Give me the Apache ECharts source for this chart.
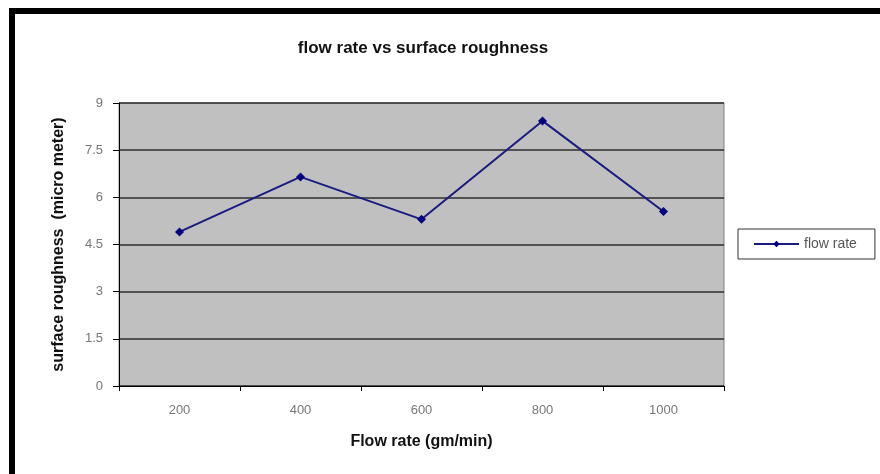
<!DOCTYPE html>
<html>
<head>
<meta charset="utf-8">
<script src="https://cdn.jsdelivr.net/npm/echarts@6/dist/echarts.min.js"></script>
<style>
  html, body { margin: 0; padding: 0; background: #fff; }
  #chart { position: absolute; left: 0; top: 0; width: 880px; height: 474px; }
  #frame {
    position: absolute; left: 9px; top: 8px; right: 0; bottom: 0;
    border-top: 6px solid #000; border-left: 6px solid #000;
    pointer-events: none;
  }
</style>
</head>
<body>
<div id="chart"></div>
<div id="frame"></div>
<script>
// values
const flowRates = ["200", "400", "600", "800", "1000"];
const roughness = [4.9, 6.65, 5.3, 8.43, 5.55];
const yTicks = { min: 0, max: 9, interval: 1.5 };

const chart = echarts.init(document.getElementById("chart"));
chart.setOption({
  animation: false,
  title: {
    text: "flow rate vs surface roughness",
    left: 418,
    top: 35,
    textAlign: "center",
    textStyle: { fontFamily: "Liberation Sans", fontSize: 17, fontWeight: "bold", color: "#111" }
  },
  legend: {
    left: 738,
    top: 229,
    padding: [8, 18, 8, 15],
    borderColor: "#333",
    borderWidth: 1,
    itemWidth: 45,
    itemHeight: 8,
    itemGap: 5,
    textStyle: { fontFamily: "Liberation Sans", fontSize: 14, color: "#555" },
    data: ["flow rate"]
  },
  grid: {
    left: 119,
    right: 156,
    top: 103,
    bottom: 88,
    show: true,
    backgroundColor: "#c0c0c0",
    borderColor: "#808080",
    borderWidth: 1
  },
  xAxis: {
    type: "category",
    boundaryGap: true,
    data: flowRates,
    name: "Flow rate (gm/min)",
    nameLocation: "middle",
    nameGap: 48,
    nameTextStyle: { fontFamily: "Liberation Sans", fontSize: 16, fontWeight: "bold", color: "#111" },
    axisLine: { lineStyle: { color: "#000", width: 1 } },
    axisTick: { show: true, length: 5, lineStyle: { color: "#000" } },
    axisLabel: { margin: 18, fontFamily: "Liberation Sans", fontSize: 13, color: "#777" }
  },
  yAxis: {
    type: "value",
    min: yTicks.min,
    max: yTicks.max,
    interval: yTicks.interval,
    name: "surface roughness  (micro meter)",
    nameLocation: "middle",
    nameGap: 52,
    nameTextStyle: { fontFamily: "Liberation Sans", fontSize: 16, fontWeight: "bold", color: "#111" },
    axisLine: { show: true, lineStyle: { color: "#000", width: 1 } },
    axisTick: { show: true, length: 6, lineStyle: { color: "#000" } },
    axisLabel: { margin: 16, fontFamily: "Liberation Sans", fontSize: 13, color: "#777" },
    splitLine: { show: true, lineStyle: { color: "#2e2e2e", width: 1.5 } }
  },
  series: [
    {
      name: "flow rate",
      type: "line",
      data: roughness,
      symbol: "diamond",
      symbolSize: 9,
      itemStyle: { color: "#000080" },
      lineStyle: { color: "#1a1a80", width: 2 }
    }
  ]
});
</script>
</body>
</html>
